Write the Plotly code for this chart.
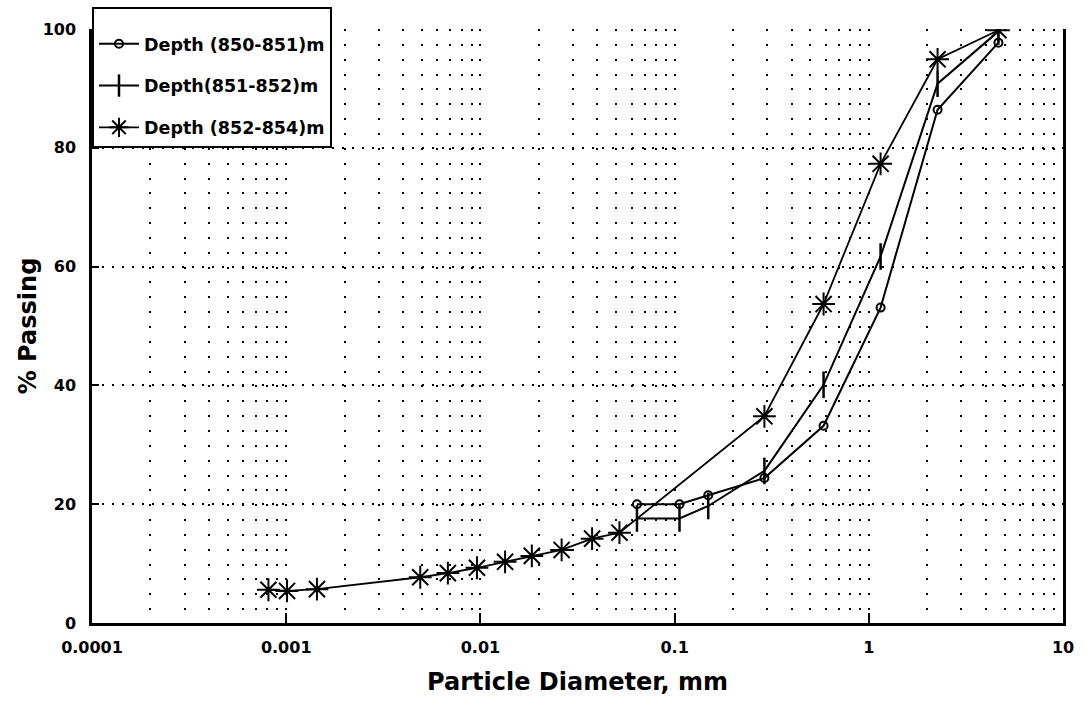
import plotly.graph_objects as go

# Hydrometer + sieve analysis, depth 852-854 m
dia_852_854 = [0.00081, 0.00101, 0.00144, 0.0049, 0.0068, 0.0096, 0.0134, 0.0184,
               0.0262, 0.0376, 0.052, 0.29, 0.585, 1.15, 2.26, 4.65]
pass_852_854 = [5.6, 5.4, 5.7, 7.7, 8.4, 9.3, 10.3, 11.3,
                12.3, 14.2, 15.2, 34.8, 53.7, 77.3, 94.9, 99.8]

# Sieve analysis, depths 850-851 m and 851-852 m
sieve_dia = [0.064, 0.106, 0.149, 0.29, 0.585, 1.15, 2.26, 4.65]
pass_850_851 = [20.0, 20.0, 21.5, 24.4, 33.2, 53.1, 86.4, 97.7]
pass_851_852 = [17.6, 17.6, 19.7, 25.6, 40.1, 61.7, 90.8, 99.6]

series_names = ["Depth (850-851)m", "Depth(851-852)m", "Depth (852-854)m"]

x_tick_vals = [0.0001, 0.001, 0.01, 0.1, 1, 10]
x_tick_text = ["0.0001", "0.001", "0.01", "0.1", "1", "10"]
y_tick_vals = [0, 20, 40, 60, 80, 100]

FONT = "DejaVu Sans"
INK = "black"

fig = go.Figure()

fig.add_trace(go.Scatter(
    x=sieve_dia, y=pass_850_851, name=series_names[0], mode="lines+markers",
    legendgroup="a",
    line=dict(color=INK, width=2),
    marker=dict(symbol="circle-open", size=8, color=INK, line=dict(width=2, color=INK)),
))
fig.add_trace(go.Scatter(
    x=sieve_dia, y=pass_851_852, name=series_names[1], mode="lines+markers",
    legendgroup="b",
    line=dict(color=INK, width=2),
    marker=dict(symbol="line-ns-open", size=19, color=INK, line=dict(width=2.5, color=INK)),
))
fig.add_trace(go.Scatter(
    x=dia_852_854, y=pass_852_854, name=series_names[2], mode="lines+markers",
    legendgroup="c",
    line=dict(color=INK, width=1.8),
    marker=dict(symbol="asterisk-open", size=19, color=INK, line=dict(width=2, color=INK)),
))

fig.update_layout(
    width=1086, height=708,
    margin=dict(l=92, r=23, t=29, b=85, autoexpand=False),
    paper_bgcolor="white", plot_bgcolor="white",
    font=dict(family=FONT, color=INK),
    showlegend=True,
    legend=dict(
        x=0, y=1.037, xanchor="left", yanchor="top",
        bgcolor="white", bordercolor=INK, borderwidth=2,
        font=dict(family=FONT, size=17.5, weight="bold"),
        title=dict(text="&nbsp;", font=dict(size=13)),
        itemwidth=40,
        tracegroupgap=16,
    ),
    xaxis=dict(
        type="log", range=[-4, 1],
        tickvals=x_tick_vals, ticktext=x_tick_text,
        tickfont=dict(family=FONT, size=16, weight="bold"),
        ticks="inside", ticklen=10, tickwidth=2, tickcolor=INK,
        ticklabelstandoff=8,
        showline=True, linecolor=INK, linewidth=2.5, mirror=False,
        showgrid=True, gridcolor=INK, gridwidth=2, griddash="2px,12.85px",
        minor=dict(dtick="D1", showgrid=True, gridcolor=INK, gridwidth=2,
                   griddash="2px,12.85px", ticks=""),
        zeroline=False,
        title=dict(text="Particle Diameter, mm", standoff=18,
                   font=dict(family=FONT, size=24, weight="bold")),
    ),
    yaxis=dict(
        range=[0, 100], tickvals=y_tick_vals,
        tickfont=dict(family=FONT, size=16, weight="bold"),
        ticks="inside", ticklen=7, tickwidth=2, tickcolor=INK,
        ticklabelstandoff=10,
        showline=True, linecolor=INK, linewidth=2.5, mirror=True,
        showgrid=True, gridcolor=INK, gridwidth=1.5, griddash="2px,8px",
        zeroline=False,
        title=dict(text="% Passing", standoff=0,
                   font=dict(family=FONT, size=24, weight="bold")),
    ),
)

fig.write_html("out.html")
